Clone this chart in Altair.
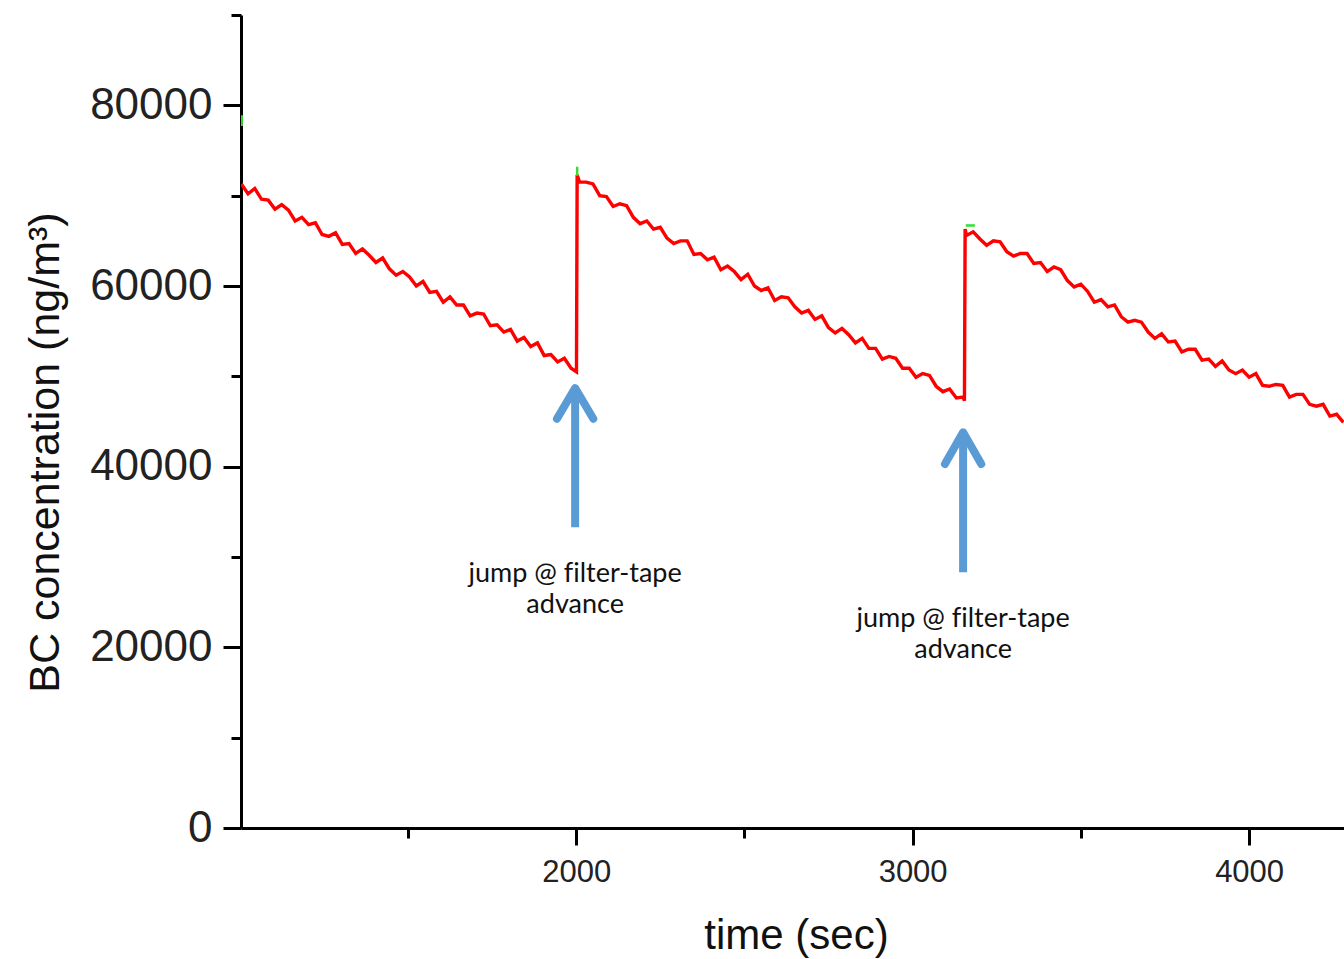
import altair as alt
import pandas as pd

# --- BC concentration trace (ng/m^3), sampled every 20 s -------------------
SEG1_T = list(range(1005, 2000, 20)) + [2001]
SEG1_V = [71300, 70200, 70800, 69600, 69500, 68500, 69000, 68400, 67200, 67600,
          66800, 67000, 65700, 65500, 65900, 64600, 64700, 63600, 64100, 63400,
          62600, 63100, 61900, 61200, 61600, 61000, 60000, 60500, 59300, 59400,
          58200, 58800, 57900, 57900, 56700, 57000, 56900, 55600, 55700, 54900,
          55200, 53900, 54300, 53300, 53700, 52300, 52400, 51600, 52000, 50900,
          50500]

SEG2_T = [2003] + list(range(2010, 3151, 20)) + [3154]
SEG2_V = [72300,
          71500, 71500, 71300, 70000, 69900, 68800, 69100, 68900, 67600, 66900,
          67200, 66300, 66500, 65300, 64700, 65000, 65000, 63500, 63600, 62900,
          63200, 61800, 62200, 61600, 60700, 61300, 60000, 59500, 59800, 58400,
          58800, 58700, 57700, 57000, 57300, 56300, 56700, 55400, 54800, 55300,
          54600, 53700, 54200, 53100, 53100, 51900, 52200, 52000, 50900, 50900,
          49900, 50300, 50100, 48900, 48300, 48600, 47600, 47700,
          47300]

SEG3_T = [3156] + list(range(3160, 4281, 20))
SEG3_V = [66300,
          65600, 66000, 65200, 64500, 65000, 64900, 63800, 63300, 63600, 63600,
          62500, 62600, 61600, 62100, 61800, 60600, 59900, 60200, 59400, 58200,
          58500, 57700, 57900, 56600, 56000, 56200, 56000, 54900, 54200, 54700,
          53800, 53900, 52700, 53000, 53000, 51800, 51900, 51100, 51700, 50700,
          50300, 50700, 49900, 50300, 49000, 48900, 49100, 49000, 47700, 48000,
          48000, 46900, 46700, 46900, 45600, 45800, 44900]

# short green trace fragments showing above the red one
GREEN_T = [1006, 1006, 2003, 2003, 3158, 3185]
GREEN_V = [77700, 78900, 72200, 73200, 66700, 66700]
GREEN_ID = ["a", "a", "b", "b", "c", "c"]

# filter-tape advance annotations
ARROW_T = [1997, 3150]
ARROW_TIP = [48700, 43800]
ARROW_BASE = [33300, 28300]
ARROW_WING = [45300, 40300]
ARROW_HALF = 54
LABEL_Y = [27200, 22200]
# zero-width non-joiner keeps "f" and "i" as separate glyphs
LABEL_TEXT = "jump @ f\u200cilter-tape\nadvance"

X_DOMAIN = [1004, 4282]
Y_DOMAIN = [0, 90000]

trace = pd.DataFrame({"t": SEG1_T + SEG2_T + SEG3_T,
                      "bc": SEG1_V + SEG2_V + SEG3_V})
green = pd.DataFrame({"t": GREEN_T, "bc": GREEN_V, "seg": GREEN_ID})

shafts = pd.DataFrame({"t": ARROW_T, "y1": ARROW_BASE, "y2": [v - 400 for v in ARROW_TIP]})
heads_rows = []
for i, (t, tip, wing) in enumerate(zip(ARROW_T, ARROW_TIP, ARROW_WING)):
    heads_rows += [
        {"t": t - ARROW_HALF, "bc": wing, "k": i, "o": 0},
        {"t": t, "bc": tip, "k": i, "o": 1},
        {"t": t + ARROW_HALF, "bc": wing, "k": i, "o": 2},
    ]
heads = pd.DataFrame(heads_rows)
labels = pd.DataFrame({"t": ARROW_T, "bc": LABEL_Y, "txt": [LABEL_TEXT] * 2})

FONT = "Liberation Sans"
BLUE = "#5B9BD5"

x_scale = alt.Scale(domain=X_DOMAIN, nice=False, zero=False)
y_scale = alt.Scale(domain=Y_DOMAIN, nice=False)

x_axis = alt.Axis(
    title="time (sec)",
    values=[1500, 2000, 2500, 3000, 3500, 4000],
    format="d",
    labelExpr="datum.value % 1000 ? '' : datum.label",
    tickSize={"condition": {"test": "datum.value % 1000 !== 0", "value": 10}, "value": 17},
    labelFontSize=31,
    labelPadding=12,
    titleFontSize=42,
    titleFontWeight="normal",
    titleX=555,
    titleY=120,
    titleAlign="center",
    titleBaseline="alphabetic",
)
y_axis = alt.Axis(
    title="BC concentration (ng/m³)",
    values=[0, 10000, 20000, 30000, 40000, 50000, 60000, 70000, 80000, 90000],
    format="d",
    labelExpr="datum.value % 20000 ? '' : datum.label",
    tickSize={"condition": {"test": "datum.value % 20000 !== 0", "value": 10}, "value": 18},
    labelFontSize=44,
    labelPadding=11,
    titleFontSize=43,
    titleFontWeight="normal",
    titleAngle=270,
    titleX=-196,
    titleY=437,
    titleAlign="center",
    titleBaseline="middle",
)

line = alt.Chart(trace).mark_line(color="#FF0000", strokeWidth=3.4, clip=True,
                                  strokeJoin="miter").encode(
    x=alt.X("t:Q", scale=x_scale, axis=x_axis),
    y=alt.Y("bc:Q", scale=y_scale, axis=y_axis),
)

green_line = alt.Chart(green).mark_line(color="#33DD33", strokeWidth=2.5, clip=True).encode(
    x=alt.X("t:Q", scale=x_scale),
    y=alt.Y("bc:Q", scale=y_scale),
    detail="seg:N",
)

shaft = alt.Chart(shafts).mark_rule(color=BLUE, strokeWidth=8, strokeCap="butt").encode(
    x=alt.X("t:Q", scale=x_scale),
    y=alt.Y("y1:Q", scale=y_scale),
    y2="y2:Q",
)

head = alt.Chart(heads).mark_line(color=BLUE, strokeWidth=8, strokeCap="round",
                                  strokeJoin="round").encode(
    x=alt.X("t:Q", scale=x_scale),
    y=alt.Y("bc:Q", scale=y_scale),
    detail="k:N",
    order="o:Q",
)

text = alt.Chart(labels).mark_text(font="Lato", fontSize=27, color="#111111",
                                   align="center", baseline="alphabetic",
                                   lineBreak="\n", lineHeight=31).encode(
    x=alt.X("t:Q", scale=x_scale),
    y=alt.Y("bc:Q", scale=y_scale),
    text="txt:N",
)

chart = alt.layer(line, green_line, shaft, head, text).properties(
    width=1103,
    height=813,
    padding={"left": 241, "top": 15, "right": 0, "bottom": 131},
    autosize=alt.AutoSizeParams(type="none"),
).configure_view(
    stroke=None,
).configure_axis(
    grid=False,
    domainColor="black",
    domainWidth=3,
    tickColor="black",
    tickWidth=3,
    labelFont=FONT,
    titleFont=FONT,
    labelColor="#222222",
    titleColor="#111111",
    labelFontWeight="normal",
)

chart.save("out.html", embed_options={"renderer": "svg", "actions": False})
